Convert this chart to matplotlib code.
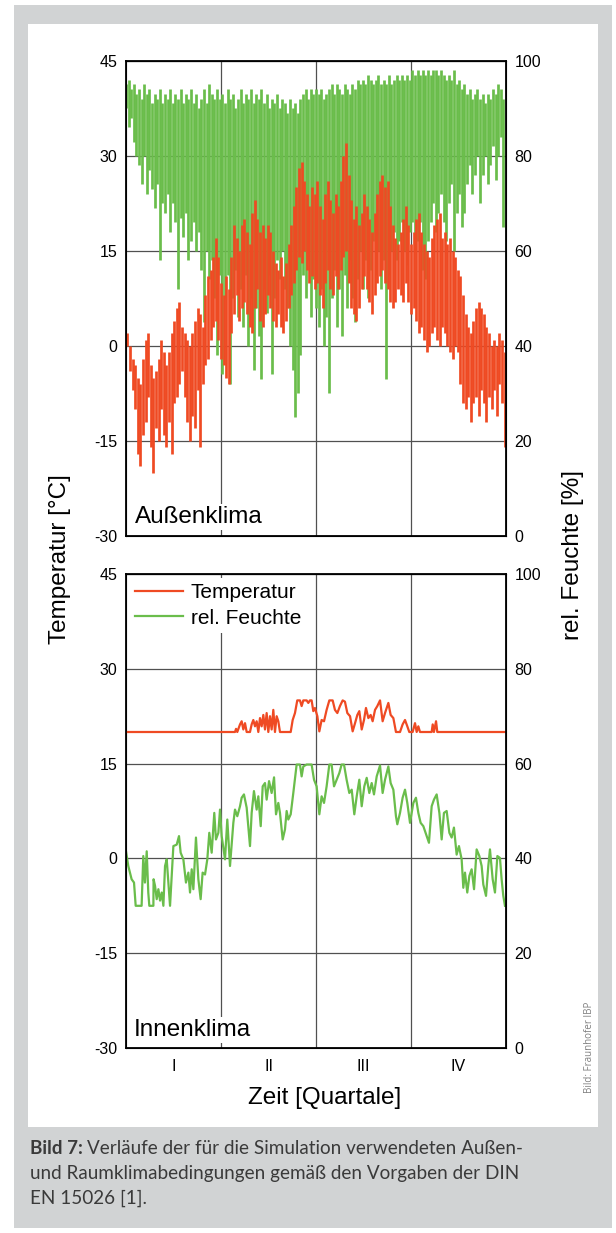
import numpy as np
import matplotlib
matplotlib.use('Agg')
import matplotlib.pyplot as plt
from matplotlib.patches import Rectangle

plt.rcParams['font.family'] = ['Liberation Sans', 'DejaVu Sans']
plt.rcParams['axes.unicode_minus'] = False

# Aussenklima: read every 2.5 days, upper and lower excursion of the hourly trace
aussen_tag = np.arange(146) * 2.5
aussen_rh_max = [95, 96, 94, 95, 93, 94, 92, 95, 93, 94,
                 91, 93, 92, 94, 91, 93, 92, 94, 91, 93,
                 92, 94, 91, 93, 92, 94, 91, 93, 90, 92,
                 94, 91, 95, 93, 92, 94, 92, 93, 91, 94,
                 92, 93, 90, 92, 94, 91, 93, 92, 94, 91,
                 93, 92, 94, 91, 93, 90, 92, 91, 93, 90,
                 92, 91, 89, 92, 90, 91, 89, 92, 93, 94,
                 92, 94, 93, 94, 93, 94, 92, 93, 94, 95,
                 93, 95, 94, 93, 95, 94, 93, 95, 94, 96,
                 95, 96, 95, 97, 96, 95, 96, 97, 95, 96,
                 95, 97, 95, 96, 97, 96, 97, 96, 97, 96,
                 98, 97, 98, 97, 98, 97, 98, 97, 98, 98,
                 97, 98, 97, 96, 97, 96, 98, 95, 96, 94,
                 95, 93, 94, 92, 93, 94, 92, 93, 91, 93,
                 92, 94, 93, 95, 94, 92]
aussen_rh_min = [90, 86, 88, 83, 80, 78, 74, 80, 72, 77,
                 73, 69, 74, 58, 70, 68, 72, 64, 70, 66,
                 52, 67, 63, 68, 58, 62, 66, 60, 64, 56,
                 45, 60, 54, 58, 50, 38, 55, 34, 50, 55,
                 32, 50, 56, 46, 52, 44, 55, 40, 50, 35,
                 48, 42, 33, 52, 47, 55, 34, 50, 58, 54,
                 60, 52, 48, 40, 35, 25, 30, 38, 55, 50,
                 58, 46, 54, 48, 44, 52, 40, 46, 30, 50,
                 56, 44, 52, 42, 55, 48, 58, 50, 45, 54,
                 60, 52, 58, 50, 56, 62, 55, 60, 52, 58,
                 33, 55, 60, 64, 58, 62, 66, 60, 57, 64,
                 66, 60, 62, 66, 56, 54, 62, 66, 70, 64,
                 68, 72, 66, 62, 70, 74, 60, 68, 72, 65,
                 68, 74, 78, 72, 76, 80, 70, 76, 80, 74,
                 78, 82, 75, 80, 84, 65]
aussen_t_max = [2, 0, -2, -3, -5, -6, -2, 1, 2, -3,
                -5, -4, -2, 1, -1, -3, -1, 2, 4, 6,
                7, 3, 2, 1, 0, 2, 4, 6, 5, 3,
                8, 11, 12, 14, 17, 14, 10, 8, 11, 9,
                14, 19, 17, 15, 19, 20, 18, 16, 21, 23,
                20, 18, 19, 17, 19, 18, 15, 13, 12, 14,
                11, 13, 16, 19, 22, 25, 28, 29, 26, 24,
                22, 25, 24, 26, 22, 20, 24, 26, 23, 21,
                24, 22, 26, 30, 32, 27, 23, 20, 22, 19,
                21, 24, 22, 20, 18, 21, 24, 26, 27, 25,
                26, 22, 19, 17, 16, 18, 20, 22, 19, 16,
                18, 20, 21, 18, 16, 15, 14, 17, 19, 20,
                21, 17, 18, 16, 17, 15, 14, 12, 11, 8,
                5, 3, 2, 4, 6, 7, 6, 5, 3, 2,
                0, 1, 0, 2, 1, -1]
aussen_t_min = [0, -4, -7, -10, -17, -19, -14, -12, -8, -16,
                -20, -13, -15, -10, -14, -16, -12, -17, -9, -8,
                -6, -4, -8, -12, -15, -11, -13, -7, -16, -6,
                -3, -2, 1, 3, 4, 1, -2, -3, -5, -6,
                2, 5, 8, 4, 6, 7, 5, 3, 2, 6,
                9, 4, 3, 5, 8, 6, 4, 3, 5, 3,
                2, 4, 6, 8, 10, 12, 14, 13, 15, 12,
                10, 11, 9, 10, 8, 6, 10, 12, 9, 8,
                11, 9, 12, 14, 15, 10, 6, 5, 4, 6,
                9, 11, 9, 7, 5, 8, 10, 11, 12, 10,
                9, 7, 6, 7, 9, 8, 7, 10, 7, 5,
                6, 4, 2, 3, 1, -1, 0, 2, 3, 1,
                0, 3, 2, 0, -1, -2, 0, -1, -6, -9,
                -10, -8, -12, -9, -8, -11, -7, -9, -12, -8,
                -10, -7, -11, -6, -9, -16]

# Innenklima (DIN EN 15026)
innen_t_tag = [0, 104.7, 105.7, 106.9, 109.5, 111.1, 112.7, 114.3, 115.9, 119.1,
               120.7, 122.3, 123.9, 125.5, 127.1, 128.7, 130.3, 131.9, 133.5, 135.1,
               136.7, 138.3, 139.9, 141.5, 143.1, 144.7, 146.3, 147.9, 158.2, 160.1,
               162.3, 164.5, 167.1, 168.7, 170.3, 173.5, 175.1, 176.7, 178.3, 179.9,
               181.5, 183.8, 185.7, 187.9, 190.2, 192.7, 195.3, 198.5, 200.7, 203.0,
               205.5, 208.1, 210.3, 212.6, 215.2, 217.7, 220.0, 222.2, 224.1, 226.4,
               228.6, 230.5, 232.8, 235.0, 236.9, 239.2, 241.4, 244.0, 246.5, 248.8,
               252.0, 254.2, 256.8, 259.3, 263.2, 265.7, 268.0, 270.2, 272.1, 275.3,
               277.6, 279.2, 280.8, 282.4, 293.6, 294.6, 295.8, 297.8, 299.0, 365]
innen_t = [20, 20, 20.5, 20, 21.2, 21.7, 20.4, 21.4, 20, 20,
           21.2, 21.9, 20.9, 21.7, 20, 22.2, 20.9, 22.7, 20.4, 23.0,
           20, 22.5, 20.4, 23.5, 20, 22.5, 21.7, 20, 20, 21.9,
           23.0, 25, 25, 24.1, 25, 25, 24.6, 25, 25, 23.3,
           23.8, 22.5, 20.1, 21.9, 21.7, 23.5, 25, 25, 23.5, 23.0,
           24.1, 25, 24.8, 23.0, 22.5, 20.1, 21.4, 22.7, 23.3, 20.4,
           21.9, 23.8, 22.2, 22.7, 21.7, 23.5, 24.1, 25, 21.7, 23.0,
           24.6, 22.7, 22.2, 20, 20, 21.2, 21.9, 20.9, 20, 20,
           21.4, 20, 20.9, 20, 20, 21.2, 20, 21.7, 20, 20]

innen_rh_tag = [0, 2.2, 5.4, 7.7, 9.3, 15.0, 16.6, 18.2, 19.9, 21.4,
                22.4, 26.3, 26.5, 27.9, 29.5, 31.1, 32.7, 34.3, 35.9, 37.5,
                39.1, 42.3, 45.5, 48.7, 50.9, 52.5, 55.1, 57.6, 59.9, 61.5,
                63.1, 64.7, 67.2, 69.5, 71.7, 73.6, 75.9, 78.1, 80.0, 82.3,
                84.8, 86.4, 88.7, 90.3, 91.9, 95.1, 97.3, 99.9, 103.1, 104.7,
                106.9, 109.5, 111.1, 113.3, 115.9, 119.1, 120.7, 122.9, 125.5, 127.1,
                129.4, 131.3, 133.5, 135.1, 137.4, 139.9, 142.2, 144.1, 146.3, 147.9,
                150.5, 152.7, 154.3, 155.9, 158.2, 160.7, 163.9, 167.1, 168.7, 170.3,
                173.5, 176.7, 178.3, 180.6, 183.1, 185.7, 187.9, 190.2, 192.7, 195.3,
                197.5, 199.8, 202.3, 204.9, 207.1, 209.4, 211.9, 214.5, 216.8, 219.3,
                221.6, 224.1, 226.4, 228.9, 231.2, 233.7, 236.0, 238.2, 240.8, 244.0,
                246.5, 248.8, 252.0, 254.2, 256.8, 259.3, 260.6, 263.2, 265.7, 268.0,
                270.2, 272.8, 276.0, 278.5, 280.8, 283.0, 285.6, 288.8, 291.0, 293.6,
                295.8, 298.4, 301.0, 303.2, 305.4, 308.0, 310.6, 312.8, 315.0, 317.6,
                319.8, 322.4, 324.0, 325.6, 327.8, 329.8, 332.0, 334.3, 336.8, 339.4,
                341.6, 343.2, 345.8, 348.0, 349.6, 352.2, 354.4, 356.7, 359.2, 360.8,
                362.4, 364.0]
innen_rh = [41.5, 38.4, 35.6, 34.9, 30.0, 30.0, 40.5, 34.9, 41.5, 32.8,
            30.0, 30.0, 35.6, 34.2, 31.4, 33.5, 31.1, 32.8, 30.0, 38.4,
            39.8, 30.0, 42.6, 42.9, 44.7, 41.2, 39.8, 34.9, 37.0, 32.8,
            37.7, 33.5, 44.4, 35.6, 31.4, 37.0, 36.6, 39.8, 45.4, 41.2,
            49.6, 44.0, 45.4, 50.3, 44.7, 39.8, 48.2, 38.4, 47.5, 50.3,
            48.9, 51.0, 52.8, 53.5, 50.7, 42.6, 49.6, 54.2, 50.3, 53.1,
            46.8, 55.2, 55.9, 52.4, 56.3, 53.8, 57.1, 49.3, 51.7, 49.6,
            44.0, 46.1, 50.0, 48.2, 49.3, 53.8, 59.8, 59.8, 57.3, 59.4,
            59.8, 59.8, 59.8, 56.6, 55.2, 49.3, 53.1, 51.7, 55.2, 59.8,
            59.8, 55.2, 56.6, 58.0, 59.8, 59.8, 56.6, 53.8, 54.5, 49.3,
            53.1, 56.6, 51.0, 55.2, 57.0, 53.8, 55.9, 53.5, 57.3, 59.6,
            53.8, 56.6, 59.4, 55.9, 54.5, 48.9, 47.2, 49.6, 52.8, 54.5,
            51.7, 47.5, 51.7, 52.8, 49.6, 47.5, 46.8, 44.7, 43.3, 51.0,
            52.4, 53.5, 49.6, 44.0, 49.6, 50.0, 45.4, 44.4, 46.5, 40.8,
            42.6, 39.8, 33.8, 37.0, 32.8, 36.3, 37.7, 33.5, 41.9, 40.5,
            38.4, 34.5, 32.1, 38.4, 41.9, 35.6, 32.8, 40.5, 40.1, 35.6,
            32.1, 30.0]

quartal_grenzen = [91.25, 182.5, 273.75]
quartal_mitte = [45.6, 136.9, 228.1, 319.4]
quartal_namen = ['I', 'II', 'III', 'IV']

rot = '#ef4a23'
gruen = '#6abd4b'
W, H = 616, 1233

fig = plt.figure(figsize=(W / 100, H / 100), dpi=100)
fig.add_artist(Rectangle((14 / W, 1 - 1228 / H), 598 / W, 1223 / H, transform=fig.transFigure,
                         facecolor='#d1d3d4', edgecolor='none', zorder=-3))
fig.add_artist(Rectangle((28 / W, 1 - 1127 / H), 570 / W, 1103 / H, transform=fig.transFigure,
                         facecolor='white', edgecolor='none', zorder=-2))


def make_panel(top_px, bottom_px):
    # ax: rel. Feuchte (right), ax2: Temperatur (left, drawn on top)
    ax = fig.add_axes([126 / W, 1 - bottom_px / H, 380 / W, (bottom_px - top_px) / H])
    ax2 = ax.twinx()
    ax.set_xlim(0, 365)
    ax.set_ylim(0, 100)
    ax.set_yticks([0, 20, 40, 60, 80, 100])
    ax.yaxis.tick_right()
    ax.set_xticks(quartal_grenzen)
    ax.set_xticklabels([])
    ax.grid(True, color='#505050', lw=0.9)
    ax.tick_params(axis='both', length=0, labelsize=11.5)
    ax.tick_params(axis='y', pad=6)
    ax2.set_ylim(-30, 45)
    ax2.set_yticks([-30, -15, 0, 15, 30, 45])
    ax2.yaxis.tick_left()
    ax2.tick_params(axis='y', length=0, labelsize=11.5, pad=6)
    for s in ax2.spines.values():
        s.set_linewidth(1.3)
    return ax, ax2


# oben: Aussenklima
ax, ax2 = make_panel(60.7, 536)
ax.vlines(aussen_tag, aussen_rh_min, aussen_rh_max, color=gruen, lw=1.95)
ax2.vlines(aussen_tag + 1.25, aussen_t_min, aussen_t_max, color=rot, lw=1.95)
ax2.text(0.024, 0.04, 'Außenklima', transform=ax2.transAxes, fontsize=17.5, va='center',
         bbox=dict(facecolor='white', edgecolor='none', pad=1.5))

# unten: Innenklima
bx, bx2 = make_panel(574, 1048)
lh, = bx.plot(innen_rh_tag, innen_rh, color=gruen, lw=1.6)
lt, = bx2.plot(innen_t_tag, innen_t, color=rot, lw=1.6)
bx.set_xticks(quartal_mitte, minor=True)
bx.set_xticklabels(quartal_namen, minor=True)
bx.tick_params(axis='x', which='minor', length=0, labelsize=11.5, pad=8)
bx2.text(0.021, 0.038, 'Innenklima', transform=bx2.transAxes, fontsize=17.5, va='center',
         bbox=dict(facecolor='white', edgecolor='none', pad=1.5))
leg = bx2.legend([lt, lh], ['Temperatur', 'rel. Feuchte'], loc='upper left',
                 bbox_to_anchor=(0.0, 1.0), fontsize=15, handlelength=2.3,
                 handletextpad=0.35, labelspacing=0.3, borderpad=0.25, borderaxespad=0.2,
                 frameon=True, fancybox=False)
leg.get_frame().set_edgecolor('none')
leg.get_frame().set_facecolor('white')
leg.get_frame().set_alpha(1)

fig.text(60 / W, 1 - 559 / H, 'Temperatur [°C]', rotation=90, fontsize=17.5, ha='center', va='center')
fig.text(573 / W, 1 - 555 / H, 'rel. Feuchte [%]', rotation=90, fontsize=17.5, ha='center', va='center')
fig.text(325 / W, 1 - 1098 / H, 'Zeit [Quartale]', fontsize=17.5, ha='center', va='center')
fig.text(590 / W, 1 - 1047 / H, 'Bild: Fraunhofer IBP', rotation=90, fontsize=7, color='#808080',
         ha='center', va='center', family=['Open Sans', 'DejaVu Sans'])

# Bildunterschrift
cap = dict(fontsize=13.6, color='#3a3a3a', family=['Lato', 'DejaVu Sans'], va='center')
t1 = fig.text(30 / W, 1 - 1148 / H, 'Bild 7:', weight='bold', **cap)
r = fig.canvas.get_renderer()
bb = t1.get_window_extent(r)
fig.text((bb.x1 + 4) / W, 1 - 1148 / H, 'Verläufe der für die Simulation verwendeten Außen-', **cap)
fig.text(30 / W, 1 - 1173 / H, 'und Raumklimabedingungen gemäß den Vorgaben der DIN', **cap)
fig.text(30 / W, 1 - 1198 / H, 'EN 15026 [1].', **cap)

fig.savefig('out.png', dpi=100)
